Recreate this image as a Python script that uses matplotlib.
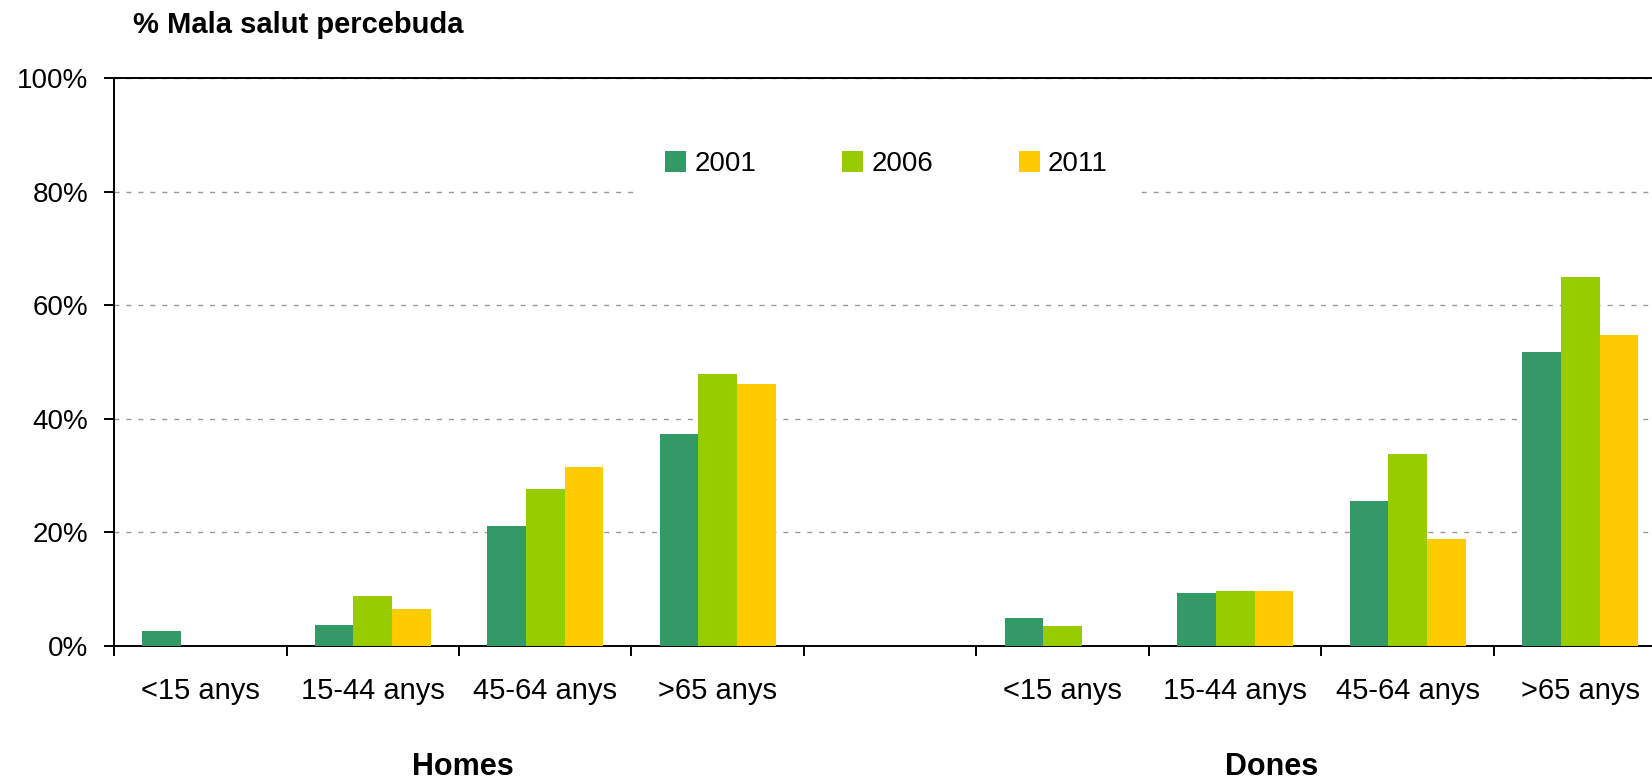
import numpy as np
import matplotlib
matplotlib.use("Agg")
import matplotlib.pyplot as plt
import matplotlib.transforms as mtransforms

plt.rcParams['font.family'] = ['Liberation Sans', 'DejaVu Sans']

# chart data (percent of poor perceived health)
categories = ['<15 anys', '15-44 anys', '45-64 anys', '>65 anys']
groups = ['Homes', 'Dones']
years = ['2001', '2006', '2011']
colors = ['#339966', '#99CC00', '#FFCC00']

homes_2001 = [2.6, 3.7, 21.1, 37.3]
homes_2006 = [np.nan, 8.8, 27.6, 47.9]
homes_2011 = [np.nan, 6.5, 31.5, 46.1]
dones_2001 = [5.0, 9.4, 25.5, 51.8]
dones_2006 = [3.5, 9.6, 33.8, 65.0]
dones_2011 = [np.nan, 9.6, 18.8, 54.8]

y_ticks = [0, 20, 40, 60, 80, 100]


def plot_chart(output_image):
    fig = plt.figure(figsize=(16.52, 7.81), dpi=100)
    # the plot area runs a little past the right edge of the picture
    ax = fig.add_axes([114 / 1652, 135 / 781, 1552.5 / 1652, 568 / 781])

    series = [
        homes_2001 + [np.nan] + dones_2001,
        homes_2006 + [np.nan] + dones_2006,
        homes_2011 + [np.nan] + dones_2011,
    ]
    labels = categories + [''] + categories
    centers = np.arange(len(labels)) + 0.5
    width = 0.224

    for i, (values, year, color) in enumerate(zip(series, years, colors)):
        ax.bar(centers + (i - 1) * width, values, width=width, color=color,
               label=year, zorder=3)

    ax.set_xlim(0, len(labels))
    ax.set_ylim(0, 100)

    # tick marks on slot edges, labels at slot centres
    ax.set_xticks(np.arange(len(labels) + 1))
    ax.set_xticklabels([])
    ax.set_xticks(centers, minor=True)
    ax.set_xticklabels(labels, minor=True, fontsize=21)
    ax.tick_params(axis='x', which='major', direction='out', length=7.2, width=1.4)
    ax.tick_params(axis='x', which='minor', length=0, pad=22)

    ax.set_yticks(y_ticks)
    ax.set_yticklabels([f"{v}%" for v in y_ticks], fontsize=20)
    ax.tick_params(axis='y', direction='out', length=7.2, width=1.4, pad=11.5)

    ax.set_axisbelow(True)
    ax.yaxis.grid(True, linestyle=(0, (3.6, 5)), color='#999999', linewidth=1)

    for side in ['left', 'bottom', 'top']:
        ax.spines[side].set_linewidth(1.4)
        ax.spines[side].set_color('black')
    ax.spines['right'].set_visible(False)

    # group labels under the age labels
    trans = mtransforms.blended_transform_factory(ax.transData, fig.transFigure)
    ax.text(2.02, 1 - 775 / 781, groups[0], transform=trans, ha='center',
            va='baseline', fontsize=22, fontweight='bold')
    ax.text(6.71, 1 - 775 / 781, groups[1], transform=trans, ha='center',
            va='baseline', fontsize=22, fontweight='bold')

    fig.text(133 / 1652, 1 - 33 / 781, '% Mala salut percebuda', ha='left',
             va='baseline', fontsize=21, fontweight='bold')

    leg = ax.legend(loc='center', bbox_to_anchor=(886.5 / 1652, 1 - 164 / 781),
                    bbox_transform=fig.transFigure, ncol=3, fontsize=20,
                    frameon=True, fancybox=False, borderpad=1.1,
                    handlelength=0.755, handleheight=0.755, handletextpad=0.29,
                    columnspacing=3.1, borderaxespad=0)
    leg.get_frame().set_facecolor('white')
    leg.get_frame().set_edgecolor('none')
    leg.get_frame().set_alpha(1)

    fig.savefig(output_image, dpi=100)
    plt.close(fig)


if __name__ == '__main__':
    plot_chart('out.png')
